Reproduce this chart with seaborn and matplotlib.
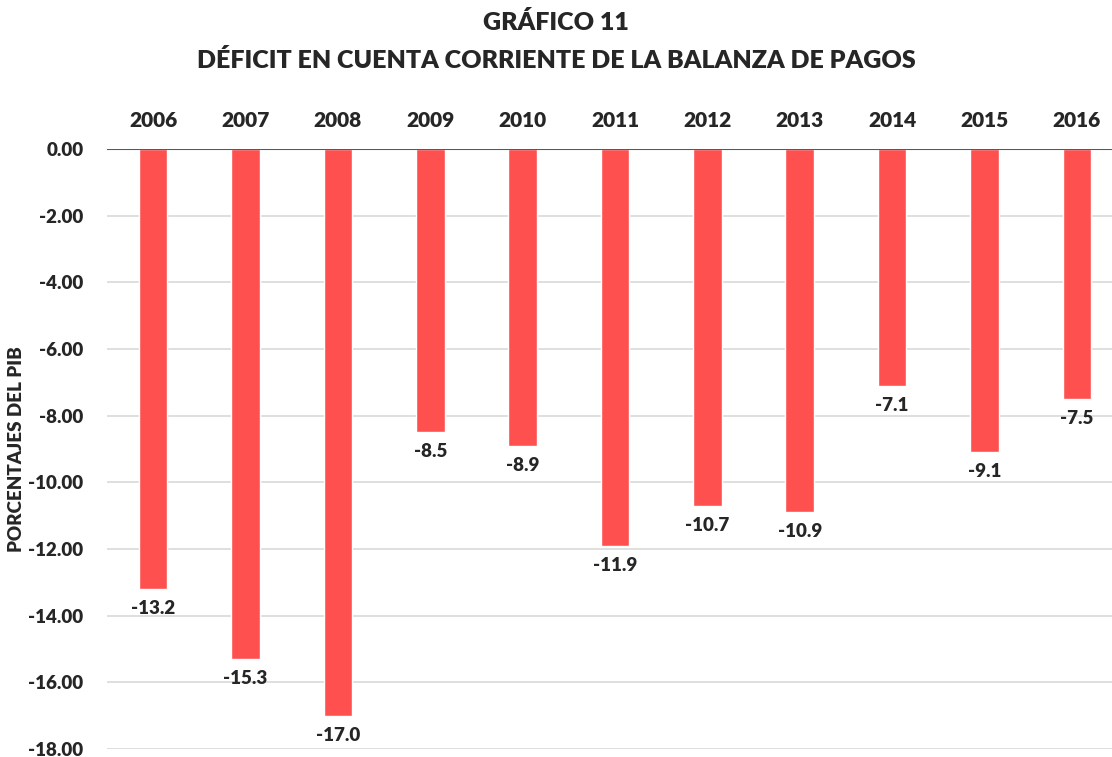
import matplotlib.pyplot as plt
import seaborn as sns
import pandas as pd

years = ['2006', '2007', '2008', '2009', '2010', '2011', '2012', '2013', '2014', '2015', '2016']
deficit = [-13.2, -15.3, -17.0, -8.5, -8.9, -11.9, -10.7, -10.9, -7.1, -9.1, -7.5]
y_ticks = [0, -2, -4, -6, -8, -10, -12, -14, -16, -18]

df = pd.DataFrame({'year': years, 'deficit': deficit})

sns.set_style("white")
plt.rcParams['font.family'] = ['Lato', 'DejaVu Sans']
plt.rcParams['font.weight'] = 'heavy'
fw = 'heavy'

W, H = 1112, 757
fig = plt.figure(figsize=(W / 100, H / 100), dpi=100)
# plot area, right edge runs slightly past the image like the original
ax = fig.add_axes([107 / W, 1 - 749 / H, (1123 - 107) / W, (749 - 149) / H])

sns.barplot(data=df, x='year', y='deficit', color='#FF5050', saturation=1,
            width=0.31, ax=ax)

ax.set_ylim(-18, 0)
ax.set_xlim(-0.5, 10.5)
ax.set_yticks(y_ticks)
ax.set_yticklabels([f'{t:.2f}' for t in y_ticks], fontsize=13.5, fontweight=fw)
ax.yaxis.grid(True, color='#D9D9D9', linewidth=1.2)
ax.set_axisbelow(True)
ax.axhline(0, color='#595959', linewidth=1.5, zorder=3)

ax.xaxis.tick_top()
ax.set_xticks(range(len(years)))
ax.set_xticklabels(years, fontsize=15, fontweight=fw)
ax.tick_params(axis='x', length=0, pad=14)
ax.tick_params(axis='y', length=0, pad=17)
ax.set_xlabel('')
ax.set_ylabel('PORCENTAJES DEL PIB', fontsize=13.5, fontweight=fw)
ax.yaxis.set_label_coords(-82 / (1123 - 107), 0.5)
sns.despine(ax=ax, left=True, bottom=True, top=True, right=True)

for c in ax.containers:
    ax.bar_label(c, fmt='%.1f', padding=8, fontsize=13.5, fontweight=fw)

fig.text(0.5, 1 - 22 / H, 'GRÁFICO 11', ha='center', va='center',
         fontsize=18, fontweight=fw)
fig.text(0.5, 1 - 60 / H, 'DÉFICIT EN CUENTA CORRIENTE DE LA BALANZA DE PAGOS',
         ha='center', va='center', fontsize=18, fontweight=fw)

fig.savefig('out.png', dpi=100)
